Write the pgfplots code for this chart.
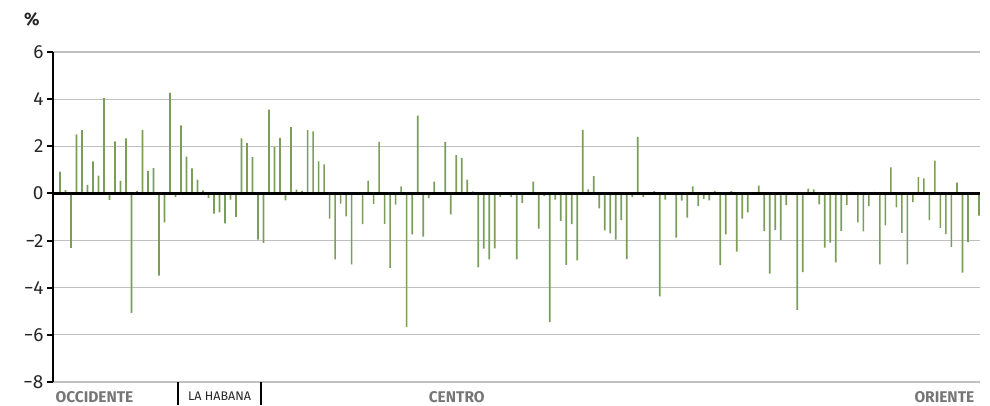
\documentclass[border=0pt]{standalone}
\usepackage{fontspec}
\setmainfont{Fira Sans}
\usepackage{pgfplots}
\pgfplotsset{compat=1.18}
\usepackage{pgfplotstable}
\definecolor{barg}{RGB}{122,158,90}
\definecolor{gridg}{RGB}{192,192,192}
\definecolor{labg}{RGB}{118,118,118}
\pgfplotstableread{
x y
1 0.93
2 0.14
3 -2.31
4 2.51
5 2.69
6 0.36
7 1.36
8 0.76
9 4.04
10 -0.27
11 2.21
12 0.53
13 2.34
14 -5.07
15 0.11
16 2.70
17 0.96
18 1.07
19 -3.49
20 -1.23
21 4.27
22 -0.16
23 2.89
24 1.56
25 1.06
26 0.59
27 0.13
28 -0.20
29 -0.86
30 -0.80
31 -1.27
32 -0.26
33 -0.99
34 2.34
35 2.13
36 1.54
37 -1.96
38 -2.10
39 3.55
40 1.99
41 2.36
42 -0.30
43 2.81
44 0.16
45 0.11
46 2.69
47 2.63
48 1.36
49 1.23
50 -1.07
51 -2.80
52 -0.43
53 -0.97
54 -3.01
55 0.00
56 -1.30
57 0.54
58 -0.44
59 2.19
60 -1.29
61 -3.16
62 -0.47
63 0.30
64 -5.67
65 -1.74
66 3.30
67 -1.83
68 -0.20
69 0.50
70 0.06
71 2.19
72 -0.89
73 1.63
74 1.50
75 0.59
76 0.09
77 -3.14
78 -2.34
79 -2.80
80 -2.33
81 -0.16
82 0.00
83 -0.16
84 -2.80
85 -0.40
86 0.00
87 0.50
88 -1.49
89 -0.11
90 -5.46
91 -0.26
92 -1.16
93 -3.03
94 -1.30
95 -2.84
96 2.70
97 0.17
98 0.73
99 -0.63
100 -1.57
101 -1.69
102 -1.96
103 -1.13
104 -2.79
105 -0.16
106 2.40
107 -0.16
108 0.00
109 0.10
110 -4.37
111 -0.26
112 0.00
113 -1.87
114 -0.31
115 -1.03
116 0.30
117 -0.54
118 -0.23
119 -0.29
120 0.11
121 -3.04
122 -1.74
123 0.10
124 -2.47
125 -1.07
126 -0.80
127 0.00
128 0.33
129 -1.60
130 -3.40
131 -1.56
132 -1.97
133 -0.50
134 0.00
135 -4.94
136 -3.34
137 0.20
138 0.17
139 -0.46
140 -2.30
141 -2.09
142 -2.93
143 -1.59
144 -0.49
145 0.07
146 -1.23
147 -1.61
148 -0.54
149 0.07
150 -3.01
151 -1.36
152 1.11
153 -0.59
154 -1.67
155 -3.01
156 -0.37
157 0.69
158 0.64
159 -1.13
160 1.39
161 -1.46
162 -1.73
163 -2.27
164 0.46
165 -3.36
166 -2.07
167 0.00
168 -0.94
}\data
\begin{document}
\begin{tikzpicture}
\useasboundingbox (0,0) rectangle (990pt,405pt);
\begin{axis}[
  at={(53pt,23pt)}, anchor=south west,
  scale only axis, width=927pt, height=330pt,
  xmin=-0.27, xmax=168.2, ymin=-8, ymax=6,
  axis x line=none, axis y line*=left,
  axis line style={black, line width=2pt},
  ytick={-8,-6,-4,-2,0,2,4,6},
  yticklabels={−8,−6,−4,−2,0,2,4,6},
  tick align=outside, major tick length=6pt,
  ytick style={black, line width=2pt},
  ymajorgrids, grid style={gridg, line width=1.2pt},
  yticklabel style={font=\fontsize{19}{21}\selectfont, text=black!85},
  ybar, bar width=1.7pt, bar shift=0pt,
  clip=false,
]
\addplot[fill=barg, draw=none] table[x=x,y=y]{\data};
\draw[black, line width=2.5pt] (axis cs:-0.27,0) -- (axis cs:168.2,0);
\draw[black, line width=1.6pt] (axis cs:22.5,-8) -- ([yshift=-23pt]axis cs:22.5,-8);
\draw[black, line width=1.6pt] (axis cs:37.5,-8) -- ([yshift=-23pt]axis cs:37.5,-8);
\node[font=\fontsize{15.5}{16}\selectfont\bfseries, text=labg, anchor=west, yshift=-15pt] at (axis cs:-0.45,-8) {OCCIDENTE};
\node[font=\fontsize{12.5}{14}\selectfont, text=black!85, yshift=-14pt] at (axis cs:30,-8) {LA HABANA};
\node[font=\fontsize{15.5}{16}\selectfont\bfseries, text=labg, yshift=-15pt] at (axis cs:73.1,-8) {CENTRO};
\node[font=\fontsize{15.5}{16}\selectfont\bfseries, text=labg, anchor=east, yshift=-15pt] at (axis cs:167.8,-8) {ORIENTE};
\node[font=\fontsize{18}{20}\selectfont\bfseries, text=black!85, anchor=east, xshift=-10pt, yshift=33pt] at (rel axis cs:0,1) {\%};
\end{axis}
\end{tikzpicture}
\end{document}
